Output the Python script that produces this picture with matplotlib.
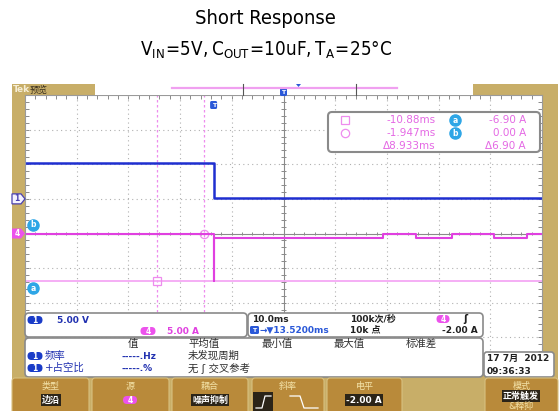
import numpy as np
import matplotlib
matplotlib.use('Agg')
from matplotlib import pyplot as plt
from matplotlib import font_manager
from matplotlib.patches import Rectangle, FancyBboxPatch, Polygon

plt.rcParams['font.family'] = ['DejaVu Sans', 'Noto Sans CJK SC']

# horizontal: 10 ms/div, trigger 13.52 ms left of center
t_center = 13.52
ms_per_div = 10.0
t_left = t_center - 5 * ms_per_div
t_right = t_center + 5 * ms_per_div

# CH1 input voltage (V), 5 V/div, ground marker 1 div above center
ch1_edges = [t_left, 0.0, t_right]
ch1_volts = [5.2, 0.1, 0.1]
ch1_scale = 5.0
ch1_offset = 1.0

# CH4 output current (A), 5 A/div, ground at center
ch4_edges = [t_left, 0.0, 0.15, 32.7, 39.1, 46.2, 54.2, 60.7, t_right]
ch4_amps = [0.0, -6.9, -0.7, 0.0, -0.7, 0.0, -0.7, 0.0, 0.0]
ch4_scale = 5.0

# cursors (time in ms, current in A)
cur_t = [-10.88, -1.947]
cur_a = [-6.90, 0.00]

TAN = '#c8ae68'
BTN = '#b98a3a'
BLUE = '#1f2fd0'
MAG = '#e040e0'
PINK = '#f0a0f0'
CYAN = '#2ea6e6'
PILL_B = '#1a3cc8'
PILL_M = '#ec52ec'

# narrow font for the headings, if one is installed
names = {f.name for f in font_manager.fontManager.ttflist}
cond = [f for f in font_manager.fontManager.ttflist
        if f.name == 'DejaVu Sans' and f.stretch == 'condensed' and f.weight in (400, 'normal')]
if 'Liberation Sans Narrow' in names:
    head = dict(family='Liberation Sans Narrow')
    head_fs = (16, 15)
elif cond:
    head = dict(family='DejaVu Sans', stretch='condensed')
    head_fs = (14.5, 13.5)
elif 'Roboto Condensed' in names:
    head = dict(family='Roboto Condensed')
    head_fs = (16, 15)
else:
    head = dict(family='Roboto')
    head_fs = (12, 11)

fig = plt.figure(figsize=(5.6, 4.11), dpi=100)

# pixel-space layers
bg = fig.add_axes([0, 0, 1, 1], zorder=0)
ov = fig.add_axes([0, 0, 1, 1], zorder=5)
for a in (bg, ov):
    a.set_xlim(0, 560)
    a.set_ylim(411, 0)
    a.axis('off')
ov.patch.set_alpha(0)

GX0, GX1, GY0, GY1 = 25, 542, 95, 372


def px_y(div):
    return GY1 - (div + 4) * (GY1 - GY0) / 8


def px_x(t):
    return GX0 + (t - t_left) / (t_right - t_left) * (GX1 - GX0)


def rbox(x0, y0, x1, y1, fc='white', ec='#8c8c8c', lw=1.2, r=4, layer=None):
    (layer or ov).add_patch(FancyBboxPatch((x0, y0), x1 - x0, y1 - y0,
                                           boxstyle=f'round,pad=0,rounding_size={r}',
                                           fc=fc, ec=ec, lw=lw))


def pill(x, y, s, fc, w=15, h=8, fs=5.5):
    rbox(x - w / 2, y - h / 2, x + w / 2, y + h / 2, fc=fc, ec='none', lw=0, r=h / 2)
    ov.text(x, y, s, color='white', fontsize=fs, fontweight='bold', ha='center', va='center')


# titles
ov.text(265, 19, 'Short Response', ha='center', va='center', fontsize=head_fs[0], **head)
ov.text(266, 50, r'$\mathregular{V_{IN}\!=\!5V,C_{OUT}\!=\!10uF,T_A\!=\!25°C}$',
        ha='center', va='center', fontsize=head_fs[1], **head)

# scope frame
bg.add_patch(Rectangle((12, 84), 546, 327, fc=TAN, ec='none'))

# top bar
ov.text(13, 90, 'Tek', color='#f6eed6', fontsize=6.5, fontweight='bold', va='center')
ov.text(30, 90, '预览', color='#3a3020', fontsize=6.5, va='center')
ov.add_patch(Rectangle((95, 84), 378, 11, fc='white', ec='none'))
ov.plot([172, 397], [88.5, 88.5], color=PINK, lw=1.6)
ov.plot([243, 243], [84, 95], color='#555555', lw=0.8)
ov.plot([356, 356], [84, 95], color='#555555', lw=0.8)
rbox(280, 88, 287, 96, fc='#2a58d8', ec='none', lw=0, r=1.5)
ov.text(283.5, 92, 'T', color='white', fontsize=4.5, fontweight='bold', ha='center', va='center')
ov.add_patch(Polygon([(296, 84), (301, 84), (298.5, 87)], fc='#2a58d8', ec='none'))

# graticule
ax = fig.add_axes([GX0 / 560, 1 - GY1 / 411, (GX1 - GX0) / 560, (GY1 - GY0) / 411], zorder=2)
ax.set_xlim(t_left, t_right)
ax.set_ylim(-4, 4)
ax.set_facecolor('white')
for s in ax.spines.values():
    s.set_color('#9a9a9a')
    s.set_linewidth(0.8)
for k in range(1, 10):
    if k != 5:
        ax.axvline(t_left + k * ms_per_div, color='#b0b0b0', lw=0.8, ls=(0, (1, 3)))
for k in range(-3, 4):
    if k != 0:
        ax.axhline(k, color='#b0b0b0', lw=0.8, ls=(0, (1, 3)))
ax.axvline(t_center, color='#8a8a8a', lw=0.8)
ax.axhline(0, color='#8a8a8a', lw=0.8)
tx = np.arange(t_left, t_right + 0.01, ms_per_div / 5)
ty = np.arange(-4, 4.01, 0.2)
ax.vlines(tx, -0.05, 0.05, color='#8a8a8a', lw=0.7)
ax.hlines(ty, t_center - 0.5, t_center + 0.5, color='#8a8a8a', lw=0.7)
ax.set_xticks(tx)
ax.set_yticks(ty)
ax.tick_params(direction='in', length=3, width=0.7, color='#8a8a8a', top=True, right=True,
               labelbottom=False, labelleft=False)

# cursors
for ct in cur_t:
    ax.axvline(ct, color='#ee8cee', lw=0.9, ls=(0, (2, 2)))
ax.axhline(cur_a[0] / ch4_scale, color='#f4a8f4', lw=1.3)
ax.plot(cur_t[0], cur_a[0] / ch4_scale, marker='s', ms=6, mfc='none', mec='#ee8cee', mew=0.9)
ax.plot(cur_t[1], cur_a[1] / ch4_scale, marker='o', ms=6, mfc='none', mec='#ee8cee', mew=0.9)

# traces
ax.plot(ch1_edges, np.array(ch1_volts) / ch1_scale + ch1_offset, drawstyle='steps-post',
        color=BLUE, lw=1.8)
ax.plot(ch4_edges, np.array(ch4_amps) / ch4_scale, drawstyle='steps-post', color=MAG, lw=1.5)

# trigger marker on screen
tx0 = px_x(0.0)
rbox(tx0 - 3.5, 101, tx0 + 3.5, 109, fc='#2a58d8', ec='none', lw=0, r=1.5)
ov.text(tx0, 105, 'T', color='white', fontsize=4.5, fontweight='bold', ha='center', va='center')

# left channel / cursor markers
y1 = px_y(ch1_offset)
ov.add_patch(Polygon([(12, y1 - 5), (21, y1 - 5), (25, y1), (21, y1 + 5), (12, y1 + 5)],
                     fc='#f4f2ff', ec='#4a40b0', lw=0.9))
ov.text(17, y1, '1', color='#4a40b0', fontsize=5.5, fontweight='bold', ha='center', va='center')
y4 = px_y(0)
ov.add_patch(Polygon([(12, y4 - 5), (21, y4 - 5), (25, y4), (21, y4 + 5), (12, y4 + 5)],
                     fc=PILL_M, ec='none'))
ov.text(17, y4, '4', color='white', fontsize=5.5, fontweight='bold', ha='center', va='center')
for lab, yy in (('b', y4 - 9), ('a', px_y(cur_a[0] / ch4_scale) + 7)):
    ov.plot(33, yy, 'o', ms=8, color=CYAN)
    ov.text(33, yy, lab, color='white', fontsize=5.5, fontweight='bold', ha='center', va='center')

# cursor readout
rbox(328, 112, 540, 152, ec='#8a8a8a', lw=1.5, r=4)
rows = [120, 133, 146]
ov.plot(345, rows[0], 's', ms=6, mfc='none', mec='#ee8cee', mew=0.9)
ov.plot(345, rows[1], 'o', ms=6, mfc='none', mec='#ee8cee', mew=0.9)
t_txt = [f'{cur_t[0]:.2f}ms', f'{cur_t[1]:.3f}ms', f'Δ{cur_t[1] - cur_t[0]:.3f}ms']
a_txt = [f'{cur_a[0]:.2f} A', f'{cur_a[1]:.2f} A', f'Δ{abs(cur_a[1] - cur_a[0]):.2f} A']
for yy, s1, s2 in zip(rows, t_txt, a_txt):
    ov.text(436, yy, s1, color='#e468e4', fontsize=7.5, ha='right', va='center')
    ov.text(526, yy, s2, color='#e468e4', fontsize=7.5, ha='right', va='center')
for lab, yy in (('a', rows[0]), ('b', rows[1])):
    ov.plot(455, yy, 'o', ms=8, color=CYAN)
    ov.text(455, yy, lab, color='white', fontsize=5.5, fontweight='bold', ha='center', va='center')

# bottom readouts
rbox(25, 313, 247, 337, ec='#8a8a8a', lw=1.2, r=4)
pill(35, 320, '1', PILL_B)
ov.text(57, 320, '5.00 V', color='#2030b0', fontsize=6.5, fontweight='bold', va='center')
pill(148, 331, '4', PILL_M)
ov.text(167, 331, '5.00 A', color=MAG, fontsize=6.5, fontweight='bold', va='center')

rbox(248, 313, 483, 337, ec='#8a8a8a', lw=1.2, r=4)
ov.text(252, 319, '10.0ms', color='#202020', fontsize=6.5, fontweight='bold', va='center')
ov.text(350, 319, '100k次/秒', color='#202020', fontsize=6.5, fontweight='bold', va='center')
pill(443, 319, '4', PILL_M, w=13)
ov.text(463, 319, 'ʃ', color='#202020', fontsize=7, fontweight='bold', va='center')
rbox(250, 326, 259, 334, fc='#2a58d8', ec='none', lw=0, r=1.5)
ov.text(254.5, 330, 'T', color='white', fontsize=4.5, fontweight='bold', ha='center', va='center')
ov.text(260, 330, '→▼13.5200ms', color='#2a58d8', fontsize=6.5, fontweight='bold', va='center')
ov.text(350, 330, '10k 点', color='#202020', fontsize=6.5, fontweight='bold', va='center')
ov.text(478, 330, '-2.00 A', color='#202020', fontsize=6.5, fontweight='bold', ha='right', va='center')

rbox(25, 338, 483, 377, ec='#8a8a8a', lw=1.2, r=4)
for x, s in ((128, '值'), (188, '平均值'), (262, '最小值'), (334, '最大值'), (406, '标准差')):
    ov.text(x, 344, s, color='#303030', fontsize=7.5, va='center')
for yy, name, val, note in ((356, '频率', '-----.Hz', '未发现周期'),
                            (368, '+占空比', '-----.%', '无 ʃ 交叉参考')):
    pill(35, yy, '1', PILL_B)
    ov.text(45, yy, name, color='#2030b0', fontsize=7.5, va='center')
    ov.text(122, yy, val, color='#2030b0', fontsize=6.5, fontweight='bold', va='center')
    ov.text(188, yy, note, color='#303030', fontsize=7.5, va='center')

rbox(484, 352, 554, 377, ec='#8a8a8a', lw=1.2, r=3)
ov.text(487, 358, '17 7月  2012', color='#202020', fontsize=6.5, fontweight='bold', va='center')
ov.text(487, 371, '09:36:33', color='#202020', fontsize=6.5, fontweight='bold', va='center')

# menu buttons
ov.add_patch(Rectangle((12, 378), 546, 33, fc=TAN, ec='none'))
buttons = [(12, 89, '类型'), (92, 169, '源'), (172, 248, '耦合'), (252, 324, '斜率'),
           (327, 402, '电平'), (485, 558, '模式')]
for x0, x1, lab in buttons:
    rbox(x0, 378, x1, 414, fc=BTN, ec='#d8c080', lw=0.8, r=3)
    ov.text((x0 + x1) / 2, 386, lab, color='#f3e2a8', fontsize=6.5, ha='center', va='center')
for xc, s in ((51, '边沿'), (210, '噪声抑制'), (364, '-2.00 A')):
    ov.text(xc, 400, s, color='white', fontsize=6.5, fontweight='bold', ha='center', va='center',
            bbox=dict(boxstyle='square,pad=0.15', fc='#2b2418', ec='none'))
pill(130, 400, '4', PILL_M, w=14)
ov.text(521, 396, '正常触发', color='white', fontsize=6.5, fontweight='bold', ha='center',
        va='center', bbox=dict(boxstyle='square,pad=0.15', fc='#2b2418', ec='none'))
ov.text(521, 406, '&释抑', color='#f3e2a8', fontsize=6.5, ha='center', va='center')
ov.add_patch(Rectangle((253, 392), 20, 19, fc='#2b2418', ec='none'))
ov.plot([256, 262, 265, 271], [408, 408, 396, 396], color='white', lw=0.9)
ov.plot([290, 300, 304, 318], [396, 396, 408, 408], color='white', lw=0.9)

fig.savefig('out.png', dpi=100)
